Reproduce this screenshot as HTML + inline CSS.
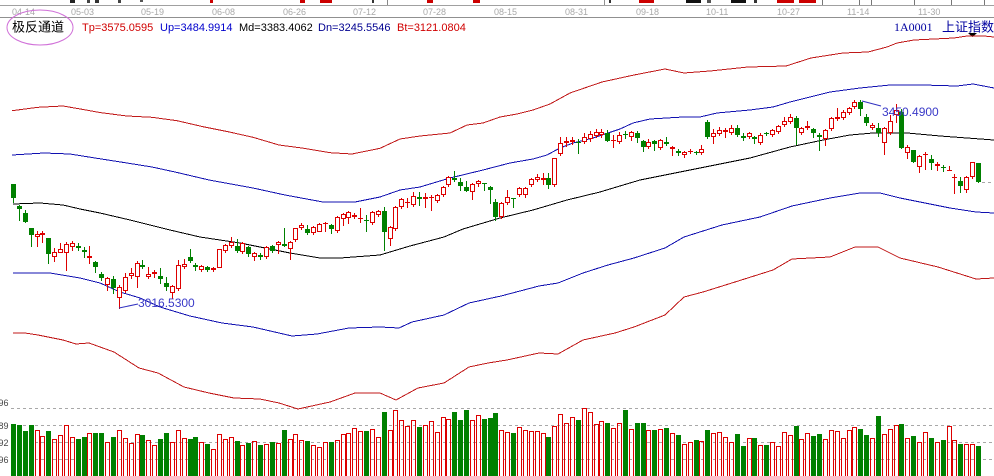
<!DOCTYPE html>
<html><head><meta charset="utf-8"><style>
html,body{margin:0;padding:0;background:#fff;}
svg{display:block;}
</style></head><body>
<svg id="s" width="994" height="476" viewBox="0 0 994 476" xmlns="http://www.w3.org/2000/svg" font-family="'Liberation Sans','Noto Sans CJK SC',sans-serif">
<rect width="994" height="476" fill="#fff"/>
<!-- top strip -->
<g shape-rendering="crispEdges">
<line x1="0" y1="5.5" x2="994" y2="5.5" stroke="#a0a0a0"/>
<line x1="0" y1="17.5" x2="994" y2="17.5" stroke="#909090"/>
<line x1="604.5" y1="0" x2="604.5" y2="5" stroke="#909090"/>
<rect x="70" y="0" width="5" height="3" fill="#222"/>
<rect x="87" y="0" width="3" height="3" fill="#444"/>
<rect x="95" y="0" width="4" height="3" fill="#333"/>
<rect x="118" y="0" width="3" height="3" fill="#444"/>
<rect x="140" y="0" width="3" height="2" fill="#555"/>
<rect x="210" y="0" width="3" height="3" fill="#c00"/>
<rect x="300" y="0" width="5" height="3" fill="#c00"/>
<rect x="320" y="0" width="12" height="3" fill="#c00"/>
<rect x="372" y="0" width="2" height="3" fill="#333"/>
<rect x="387" y="0" width="1" height="5" fill="#888"/>
<rect x="427" y="0" width="6" height="3" fill="#c00"/>
<rect x="473" y="0" width="7" height="3" fill="#c00"/>
<rect x="609" y="0" width="2" height="3" fill="#333"/>
<rect x="639" y="0" width="15" height="3" fill="#c00"/>
<rect x="686" y="0" width="15" height="3" fill="#111"/>
<rect x="707" y="0" width="4" height="3" fill="#555"/>
<rect x="731" y="0" width="15" height="3" fill="#111"/>
<rect x="754" y="0" width="3" height="3" fill="#333"/>
<rect x="777" y="0" width="17" height="3" fill="#c00"/>
<rect x="799" y="0" width="17" height="3" fill="#c00"/>
<rect x="822" y="0" width="1" height="5" fill="#777"/>
<rect x="859" y="0" width="1" height="5" fill="#777"/>
<rect x="871" y="0" width="1" height="5" fill="#777"/>
<rect x="914" y="0" width="1" height="5" fill="#777"/>
<rect x="951" y="0" width="1" height="5" fill="#777"/>
<rect x="984" y="0" width="1" height="5" fill="#777"/>
</g>
<g font-size="9" fill="#a8a8a8">
<text x="12" y="15">04-14</text><text x="71" y="15">05-03</text><text x="141" y="15">05-19</text>
<text x="212" y="15">06-08</text><text x="283" y="15">06-26</text><text x="353" y="15">07-12</text>
<text x="423" y="15">07-28</text><text x="494" y="15">08-15</text><text x="565" y="15">08-31</text>
<text x="636" y="15">09-18</text><text x="706" y="15">10-11</text><text x="777" y="15">10-27</text>
<text x="847" y="15">11-14</text><text x="918" y="15">11-30</text>
</g>
<!-- legend -->
<text x="12" y="31.5" font-size="13" fill="#000">极反通道</text>
<ellipse cx="40" cy="27.5" rx="33" ry="17.5" fill="none" stroke="#d070d8" stroke-width="1"/>
<g font-size="11">
<text x="82" y="31" fill="#d00000">Tp=3575.0595</text>
<text x="160" y="31" fill="#0000cc">Up=3484.9914</text>
<text x="239" y="31" fill="#000">Md=3383.4062</text>
<text x="318" y="31" fill="#000090">Dn=3245.5546</text>
<text x="397" y="31" fill="#d00000">Bt=3121.0804</text>
</g>
<text x="894" y="31" font-size="12" font-family="'Liberation Serif',serif" fill="#0000a0">1A0001</text>
<text x="942" y="31.5" font-size="13" fill="#0000a0">上证指数</text>
<polygon points="968,33 977,33 972.5,37" fill="#000"/>
<!-- volume grid -->
<g stroke="#a8a8a8" stroke-dasharray="3,3" shape-rendering="crispEdges">
<line x1="11" y1="408.5" x2="994" y2="408.5"/>
<line x1="11" y1="425.5" x2="994" y2="425.5"/>
<line x1="11" y1="442.5" x2="994" y2="442.5"/>
<line x1="11" y1="459.5" x2="994" y2="459.5"/>
<line x1="982" y1="182.5" x2="994" y2="182.5"/>
</g>
<g font-size="9" fill="#444" text-anchor="end">
<text x="8.5" y="406">96</text>
<text x="8.5" y="429">89</text>
<text x="8.5" y="446">92</text>
<text x="8.5" y="463">96</text>
</g>
<!-- bands -->
<g fill="none" stroke-width="1" shape-rendering="crispEdges">
<polyline stroke="#c01818" points="12,110.7 38,107.3 63,106 82,109.3 101,112.7 127,116 152,117.3 177,120.7 203,126.7 228,131.7 253,137.3 279,145 304,148.3 330,152.7 352,154 380,148.3 400,139 420,136 450,133 467,125 483,123 500,117 517,114 533,110 550,104 570,93 602,82 634,75 665,69 684,73 710,71 748,67 786,66 811,58 843,53 868,52 887,47 897,43 914,40 934,39 954,38 967,36 984,36 994,37"/>
<polyline stroke="#1010b0" points="12,155 44,153 70,154 95,158 127,163 152,167 175,172 209,180 253,188 285,195 323,202 355,202 380,197 400,190 420,187 450,178 483,170 510,163 533,159 547,155 560,148 573,143 593,138 620,129 633,123 650,119 683,117 700,117 717,113 750,110 773,107 790,102 810,97 830,92 860,88 890,85 923,85 957,86 973,84 994,88"/>
<polyline stroke="#000" points="13,204 40,203 63,205 80,209 100,213 130,220 170,230 200,237 240,243 270,249 290,253 320,258 340,258 380,255 410,246 444,237 463,229 500,218 533,210 567,200 600,192 620,186 640,180 700,168 750,158 790,147 823,140 850,135 873,133 907,133 940,136 994,140"/>
<polyline stroke="#1010b0" points="13,273 50,273 80,278 100,283 120,292 140,298 160,307 190,316 222,323 253,327 292,336 317,334 349,328 380,327 399,328 412,322 444,315 469,303 501,296 539,286 558,283 583,273 608,265 634,258 665,248 684,237 722,225 760,217 792,206 830,198 860,193 880,193 900,198 920,202 950,208 976,212 994,213"/>
<polyline stroke="#c01818" points="13,333 25,333 38,335 63,340 76,344 89,343 114,352 139,368 158,373 184,387 209,393 234,398 260,399 279,403 298,409 330,402 355,393 380,393 396,400 418,388 444,383 469,367 488,363 507,360 539,353 558,354 583,340 615,333 634,327 665,315 684,297 703,292 735,282 773,270 792,259 811,258 830,257 855,247 878,247 900,258 938,267 976,279 994,278"/>
</g>
<g id="c" shape-rendering="crispEdges"></g>
<!-- annotations -->
<line x1="119" y1="308" x2="138" y2="304" stroke="#3030c0"/>
<text x="138" y="307" font-size="12" fill="#3a3ac8">3016.5300</text>
<line x1="862" y1="101" x2="881" y2="106" stroke="#3030c0"/>
<text x="882" y="116" font-size="12" fill="#3a3ac8">3450.4900</text>
</svg>
<script>
var D=[
['g',184,198,184,202,424],['g',206,209,205,220,425],['g',213,222,210,222,431],['g',228,235,228,246,425],['r',234,237,231,246,430],
['r',233,235,231,242,436],['g',238,254,238,263,431],['r',252,257,248,261,439],['r',249,253,243,253,435],['r',244,253,242,270,425],
['r',243,247,241,250,437],['g',246,248,243,250,439],['g',250,252,247,257,437],['r',256,258,246,263,433],['g',262,267,261,272,433],
['g',274,278,272,280,433],['r',278,285,277,290,442],['g',279,288,276,293,437],['r',287,298,285,308,430],['r',277,291,273,292,438],
['r',273,276,268,278,443],['r',263,277,261,287,434],['g',265,267,260,268,435],['r',274,277,267,278,440],['r',272,274,270,277,445],
['g',276,279,268,283,439],['g',283,287,277,290,433],['r',286,293,285,298,442],['r',265,289,260,290,430],['r',264,267,259,268,438],
['g',257,261,249,262,439],['g',265,267,263,270,437],['r',266,270,265,271,442],['g',267,270,266,271,444],['r',268,270,267,271,449],
['r',249,268,249,268,434],['r',245,251,244,252,439],['r',242,246,237,247,437],['g',246,251,239,252,441],['r',243,252,242,253,445],
['g',247,254,246,256,443],['r',253,257,252,260,441],['g',255,257,253,259,445],['r',247,257,246,258,444],['g',246,251,245,252,442],
['r',242,245,241,253,443],['g',244,246,228,246,430],['r',242,249,241,259,439],['r',228,240,228,241,434],['r',225,228,223,229,440],
['g',229,233,225,234,441],['r',227,233,226,234,445],['r',224,232,223,232,447],['r',223,224,222,231,442],['g',225,229,224,233,442],
['r',217,231,216,232,440],['r',214,219,213,225,434],['r',212,218,211,223,433],['r',215,217,213,218,428],['r',218,219,208,222,431],
['g',220,221,215,231,431],['r',212,223,211,224,429],['r',211,215,210,216,437],['g',211,232,207,250,412],['r',227,239,226,245,430],
['r',207,229,206,230,410],['r',199,207,198,208,420],['r',202,203,198,207,426],['r',196,205,192,206,420],['g',197,199,192,205,427],
['r',197,199,193,207,425],['r',197,198,195,210,421],['r',195,201,194,202,432],['r',187,195,186,196,417],['r',177,185,176,186,419],
['g',178,180,171,181,412],['g',182,186,178,190,420],['g',187,191,181,191,410],['r',184,192,183,199,420],['r',181,184,180,186,415],
['g',183,184,183,190,419],['g',187,190,186,203,418],['g',202,217,199,220,413],['r',203,217,202,218,430],['r',197,203,190,204,432],
['g',198,199,198,207,433],['r',188,195,187,196,427],['r',188,195,187,197,430],['r',179,185,178,186,431],['r',177,180,174,181,431],
['r',178,180,173,184,433],['g',178,185,173,188,437],['r',158,185,158,186,426],['r',143,154,137,155,414],['r',141,143,137,146,423],
['r',140,142,137,144,417],['g',142,143,139,153,420],['r',137,142,133,143,408],['r',134,139,131,141,412],['r',132,136,129,137,424],
['r',132,135,129,137,421],['g',133,141,130,141,423],['r',140,141,135,147,428],['r',135,142,132,143,423],['g',134,135,131,138,410],
['r',132,137,131,140,429],['g',133,138,131,142,423],['g',141,147,140,151,423],['r',142,147,139,148,430],['g',141,144,140,150,430],
['r',140,148,139,149,429],['g',142,144,137,145,428],['r',147,149,146,155,433],['g',151,153,149,155,435],['r',152,155,151,157,444],
['r',151,152,149,153,442],['g',152,153,151,154,440],['r',149,153,145,154,441],['g',122,137,120,138,430],['r',133,137,129,143,433],
['r',130,134,127,135,432],['r',130,132,128,137,437],['r',128,133,125,134,442],['g',128,135,125,136,434],['g',136,138,133,140,446],
['r',133,137,132,138,438],['g',137,139,136,143,438],['r',135,143,133,144,445],['g',133,134,132,135,445],['r',130,135,129,136,442],
['r',126,132,125,133,446],['r',121,125,117,126,432],['r',117,122,114,123,435],['g',118,128,116,144,426],['r',128,133,127,134,439],
['r',126,128,121,129,433],['g',129,133,128,137,436],['g',135,137,133,150,434],['r',130,139,129,145,439],['r',118,129,117,130,430],
['r',117,119,108,120,431],['r',112,118,110,119,438],['r',108,113,107,114,430],['r',102,107,100,108,427],['g',102,109,100,115,429],
['g',117,123,114,125,435],['r',125,128,123,129,438],['g',128,133,123,136,416],['r',128,143,127,154,434],['r',121,133,115,134,429],
['r',110,115,104,122,425],['g',112,148,109,148,424],['r',147,153,145,158,438],['g',150,162,150,162,436],['r',156,167,155,172,442],
['r',154,155,152,169,432],['g',159,163,155,169,438],['r',164,166,162,170,442],['g',167,168,165,171,440],['r',170,171,166,171,426],
['r',177,178,174,193,440],['g',181,186,177,192,444],['r',177,190,176,192,444],['r',162,177,162,178,444],['g',163,182,163,182,446]
];
var G='#008000',R='#dd0000',s='';
for(var i=0;i<D.length;i++){
 var d=D[i],c=d[0],t=d[1],b=d[2],h=d[3],l=d[4],v=d[5];
 var L=Math.round(11+i*5.884),cx=L+2.5;
 if(c==='g'){
  s+='<line x1="'+cx+'" y1="'+h+'" x2="'+cx+'" y2="'+(l+1)+'" stroke="'+G+'"/>';
  s+='<rect x="'+L+'" y="'+t+'" width="5" height="'+Math.max(b-t,1)+'" fill="'+G+'"/>';
  s+='<rect x="'+L+'" y="'+v+'" width="5" height="'+(476-v)+'" fill="'+G+'"/>';
 }else{
  if(h<t)s+='<line x1="'+cx+'" y1="'+h+'" x2="'+cx+'" y2="'+t+'" stroke="'+R+'"/>';
  if(l>b)s+='<line x1="'+cx+'" y1="'+b+'" x2="'+cx+'" y2="'+(l+1)+'" stroke="'+R+'"/>';
  if(b-t<=1)s+='<line x1="'+L+'" y1="'+(t+0.5)+'" x2="'+(L+5)+'" y2="'+(t+0.5)+'" stroke="'+R+'"/>';
  else s+='<rect x="'+(L+0.5)+'" y="'+(t+0.5)+'" width="4" height="'+(b-t-1)+'" fill="#fff" stroke="'+R+'"/>';
  s+='<rect x="'+(L+0.5)+'" y="'+(v+0.5)+'" width="4" height="'+(476-v)+'" fill="none" stroke="'+R+'"/>';
 }
}
document.getElementById('c').innerHTML=s;
</script>
</body></html>
